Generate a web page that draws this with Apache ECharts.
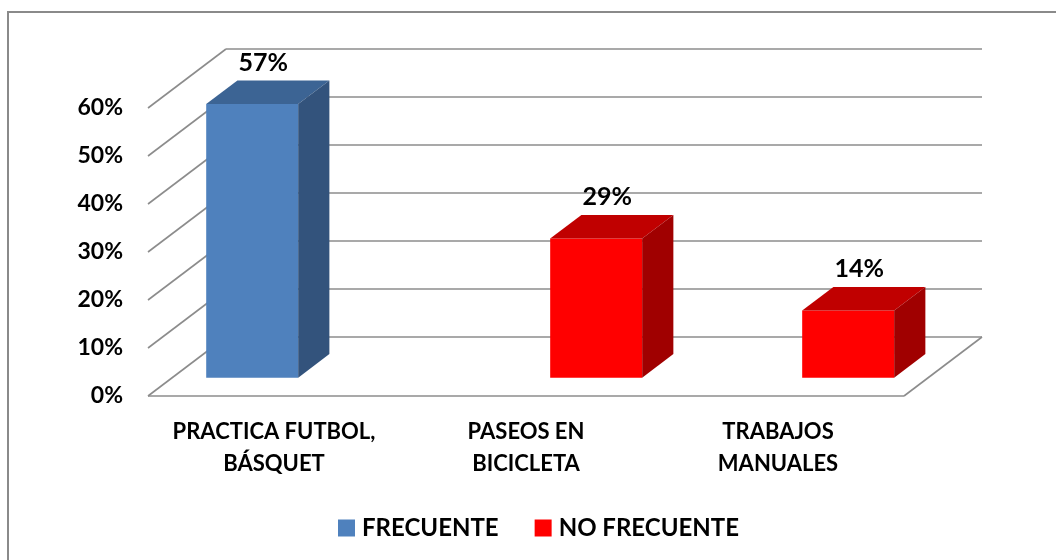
<!DOCTYPE html>
<html>
<head>
<meta charset="utf-8">
<script src="https://cdn.jsdelivr.net/npm/echarts@6/dist/echarts.min.js"></script>
<style>
  html, body { margin: 0; padding: 0; background: #fff; }
  #chart { width: 1056px; height: 560px; }
</style>
</head>
<body>
<div id="chart"></div>
<script>
// datos del grafico
const categories = ['PRACTICA FUTBOL,\nBÁSQUET', 'PASEOS EN\nBICICLETA', 'TRABAJOS\nMANUALES']
const frecuente = [57, null, null]
const noFrecuente = [null, 29, 14]
const yTicks = [0, 10, 20, 30, 40, 50, 60]

// profundidad 3D (px)
const DX = 78
const DY = 59
const FONT = 'Lato'

let myChart = echarts.init(document.querySelector('#chart'))

function toData(arr) {
  return arr.map((v, i) => [i, v]).filter(d => d[1] !== null)
}

// paredes y lineas de division
function renderWalls(params, api) {
  const cs = params.coordSys
  const x0 = cs.x
  const x1 = cs.x + cs.width
  const y = api.coord([0, api.value(1)])[1]
  const style = { stroke: '#8c8c8c', lineWidth: 1.6, fill: null }
  const children = [
    { type: 'line', shape: { x1: x0, y1: y, x2: x0 + DX, y2: y - DY }, style },
    { type: 'line', shape: { x1: x0 + DX, y1: y - DY, x2: x1 + DX, y2: y - DY }, style }
  ]
  if (api.value(1) === 0) {
    children.push({ type: 'line', shape: { x1: x0, y1: y, x2: x1, y2: y }, style })
    children.push({ type: 'line', shape: { x1: x1, y1: y, x2: x1 + DX, y2: y - DY }, style })
  }
  return { type: 'group', children }
}

// barras 3D
function makeBarRenderer(side, colors) {
  return function (params, api) {
    const i = api.value(0)
    const v = api.value(1)
    const base = api.coord([i, 0])
    const top = api.coord([i, v])
    const band = api.size([1, 0])[0]
    const bw = band * 0.365
    const ox = DX * 0.31, oy = DY * 0.31
    const bdx = DX * 0.40, bdy = DY * 0.40
    const xL = base[0] + ox - (side < 0 ? bw : 0)
    const yT = top[1] - oy
    const yB = base[1] - oy
    return {
      type: 'group',
      children: [
        {
          type: 'rect',
          shape: { x: xL, y: yT, width: bw, height: yB - yT },
          style: { fill: colors[0] }
        },
        {
          type: 'polygon',
          shape: { points: [[xL, yT], [xL + bw, yT], [xL + bw + bdx, yT - bdy], [xL + bdx, yT - bdy]] },
          style: { fill: colors[1] }
        },
        {
          type: 'polygon',
          shape: { points: [[xL + bw, yT], [xL + bw + bdx, yT - bdy], [xL + bw + bdx, yB - bdy], [xL + bw, yB]] },
          style: { fill: colors[2] }
        },
        {
          type: 'text',
          style: {
            x: xL + bw / 2 + 11,
            y: yT - bdy - 18,
            text: v + '%',
            align: 'center',
            verticalAlign: 'middle',
            font: 'bold 25px ' + FONT,
            fill: '#000'
          }
        }
      ]
    }
  }
}

let option = {
  animation: false,
  textStyle: { fontFamily: FONT },
  graphic: [
    {
      type: 'rect',
      shape: { x: 8, y: 12, width: 1100, height: 600 },
      style: { fill: null, stroke: '#8a8a8a', lineWidth: 2 },
      z: 0
    }
  ],
  grid: {
    left: 148,
    right: 152,
    top: 108,
    bottom: 164
  },
  legend: {
    left: 338,
    top: 516,
    padding: 0,
    itemWidth: 17,
    itemHeight: 17,
    itemGap: 36,
    icon: 'rect',
    textStyle: { fontSize: 24, fontWeight: 'bold', color: '#000', fontFamily: FONT, padding: [0, 0, 0, 2] },
    data: [
      { name: 'FRECUENTE', itemStyle: { color: '#4F81BD' } },
      { name: 'NO FRECUENTE', itemStyle: { color: '#FF0000' } }
    ]
  },
  xAxis: {
    type: 'category',
    data: categories,
    axisLine: { show: false },
    axisTick: { show: false },
    axisLabel: {
      interval: 0,
      margin: 20,
      fontSize: 22,
      fontWeight: 'bold',
      color: '#000',
      lineHeight: 32,
      fontFamily: FONT
    }
  },
  yAxis: {
    type: 'value',
    min: 0,
    max: 60,
    interval: 10,
    axisLine: { show: false },
    axisTick: { show: false },
    splitLine: { show: false },
    axisLabel: {
      margin: 25,
      fontSize: 23,
      fontWeight: 'bold',
      color: '#000',
      fontFamily: FONT,
      formatter: '{value}%'
    }
  },
  series: [
    {
      name: 'walls',
      type: 'custom',
      renderItem: renderWalls,
      data: yTicks.map(v => [0, v]),
      silent: true,
      z: 1
    },
    {
      name: 'FRECUENTE',
      type: 'custom',
      renderItem: makeBarRenderer(-1, ['#4F81BD', '#3C6494', '#33537C']),
      itemStyle: { color: '#4F81BD' },
      data: toData(frecuente),
      z: 3
    },
    {
      name: 'NO FRECUENTE',
      type: 'custom',
      renderItem: makeBarRenderer(1, ['#FF0000', '#C00000', '#A00000']),
      itemStyle: { color: '#FF0000' },
      data: toData(noFrecuente),
      z: 3
    }
  ]
}
myChart.setOption(option)
</script>
</body>
</html>
